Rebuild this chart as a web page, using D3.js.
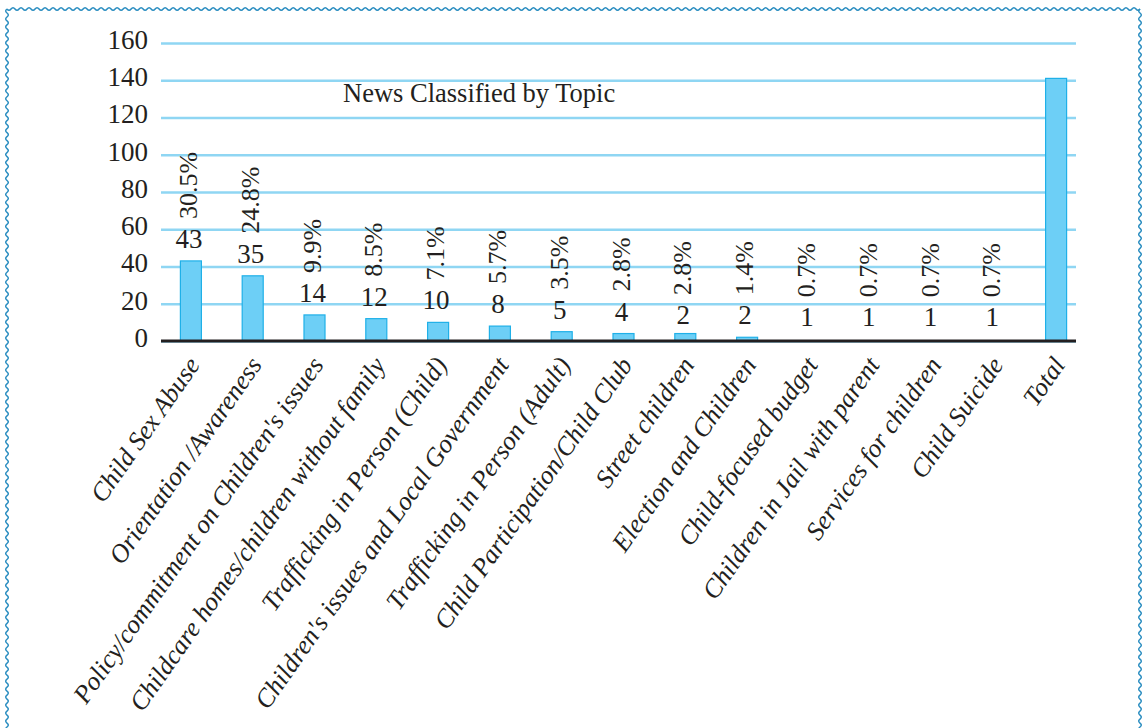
<!DOCTYPE html>
<html>
<head>
<meta charset="utf-8">
<script src="https://cdn.jsdelivr.net/npm/d3@7"></script>
<style>
  body { margin: 0; background: #fff; }
  svg { display: block; }
  text { font-family: "Liberation Serif", "Times New Roman", serif; fill: #231f20; }
</style>
</head>
<body>
<div id="chart"></div>
<script>
// Data
const categories = [
    "Child Sex Abuse",
    "Orientation /Awareness",
    "Policy/commitment on Children's issues",
    "Childcare homes/children without family",
    "Trafficking in Person (Child)",
    "Children's issues and Local Government",
    "Trafficking in Person (Adult)",
    "Child Participation/Child Club",
    "Street children",
    "Election and Children",
    "Child-focused budget",
    "Children in Jail with parent",
    "Services for children",
    "Child Suicide",
    "Total"
];
// bar heights as drawn (the 1-count bars are not visible in the picture)
const barValues = [43, 35, 14, 12, 10, 8, 5, 4, 4, 2, 0, 0, 0, 0, 141];
// labels as printed above the bars
const countLabels = ["43", "35", "14", "12", "10", "8", "5", "4", "2", "2", "1", "1", "1", "1"];
const countValues = [43, 35, 14, 12, 10, 8, 5, 4, 2, 2, 1, 1, 1, 1];
const percentLabels = ["30.5%", "24.8%", "9.9%", "8.5%", "7.1%", "5.7%", "3.5%", "2.8%", "2.8%", "1.4%", "0.7%", "0.7%", "0.7%", "0.7%"];
const yTicks = [0, 20, 40, 60, 80, 100, 120, 140, 160];
const title = "News Classified by Topic";

const W = 1143, H = 728;
const plot = { left: 161, right: 1076, top: 43, bottom: 341 };

const svg = d3.select("#chart").append("svg")
    .attr("width", W)
    .attr("height", H);

// wavy frame
function wavy(x0, y0, x1, y1, step, amp) {
    const len = Math.hypot(x1 - x0, y1 - y0);
    const n = Math.round(len / step);
    const ux = (x1 - x0) / len, uy = (y1 - y0) / len;
    const nx = -uy, ny = ux;
    const s = len / n;
    let d = `M${x0},${y0}`;
    for (let i = 0; i < n; i++) {
        const sign = i % 2 === 0 ? 1 : -1;
        const cx = x0 + ux * s * (i + 0.5) + nx * amp * 2 * sign;
        const cy = y0 + uy * s * (i + 0.5) + ny * amp * 2 * sign;
        const ex = x0 + ux * s * (i + 1);
        const ey = y0 + uy * s * (i + 1);
        d += ` Q${cx},${cy} ${ex},${ey}`;
    }
    return d;
}
const frame = svg.append("g")
    .attr("fill", "none")
    .attr("stroke", "#2a8dc0")
    .attr("stroke-width", 1.5);
frame.append("path").attr("d", wavy(7, 9, 1140, 9, 4, 1.3));
frame.append("path").attr("d", wavy(7, 9, 7, 735, 4, 1.3));
frame.append("path").attr("d", wavy(1140, 9, 1140, 735, 4, 1.3));

// scales
const x = d3.scaleBand()
    .domain(categories)
    .range([160, 1087])
    .paddingInner(0.66)
    .paddingOuter(0.33);

const y = d3.scaleLinear()
    .domain([0, 160])
    .range([plot.bottom, plot.top]);

// gridlines + y tick labels
const yAxis = svg.append("g")
    .attr("transform", `translate(${plot.left},0)`)
    .call(d3.axisLeft(y)
        .tickValues(yTicks)
        .tickSize(-(plot.right - plot.left))
        .tickPadding(13));
yAxis.select(".domain").remove();
yAxis.selectAll(".tick line")
    .attr("stroke", "#8fd6f3")
    .attr("stroke-width", 2.5);
yAxis.selectAll(".tick text")
    .attr("font-size", 27)
    .attr("dy", "0.2em")
    .style("font-family", "'Liberation Serif', serif")
    .style("fill", "#231f20");

// title
svg.append("text")
    .attr("x", 343)
    .attr("y", 102)
    .attr("font-size", 26.5)
    .text(title);

// bars
svg.selectAll(".bar")
    .data(barValues)
    .enter()
    .append("rect")
    .attr("class", "bar")
    .attr("x", (d, i) => x(categories[i]))
    .attr("y", d => y(d))
    .attr("width", x.bandwidth())
    .attr("height", d => y(0) - y(d))
    .attr("fill", "#6dcff6")
    .attr("stroke", "#1fb0e8")
    .attr("stroke-width", 1.2)
    .attr("display", d => d > 0 ? null : "none");

// baseline
svg.append("line")
    .attr("x1", plot.left)
    .attr("x2", plot.right)
    .attr("y1", y(0))
    .attr("y2", y(0))
    .attr("stroke", "#231f20")
    .attr("stroke-width", 3);

// count labels and rotated percentages
const labelBase = i => y(countValues[i]) - 13;
svg.selectAll(".count")
    .data(countLabels)
    .enter()
    .append("text")
    .attr("class", "count")
    .attr("x", (d, i) => x(categories[i]) + x.bandwidth() / 2 - 2)
    .attr("y", (d, i) => labelBase(i))
    .attr("text-anchor", "middle")
    .attr("font-size", 27)
    .text(d => d);

svg.selectAll(".pct")
    .data(percentLabels)
    .enter()
    .append("text")
    .attr("class", "pct")
    .attr("transform", (d, i) => {
        const cx = x(categories[i]) + x.bandwidth() / 2 - 3;
        return `translate(${cx},${labelBase(i) - 29}) rotate(-90)`;
    })
    .attr("dy", "0.35em")
    .attr("text-anchor", "start")
    .attr("font-size", 26)
    .text(d => d);

// category labels
const xAxis = svg.append("g")
    .attr("transform", `translate(0,${y(0)})`)
    .call(d3.axisBottom(x).tickSize(0).tickPadding(0));
xAxis.select(".domain").remove();
xAxis.selectAll(".tick text")
    .attr("text-anchor", "end")
    .attr("font-size", 26)
    .attr("dy", 0)
    .attr("y", 0)
    .attr("transform", "translate(10,24) rotate(-55)")
    .style("font-family", "'Liberation Serif', serif")
    .style("font-style", "italic")
    .style("fill", "#231f20");
</script>
</body>
</html>
